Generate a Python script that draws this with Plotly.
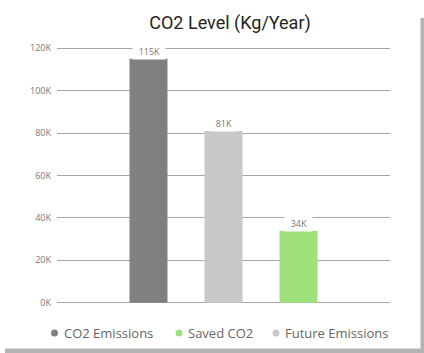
import plotly.graph_objects as go

# Series drawn as columns (left to right) and their values in kg/year
series = ["CO2 Emissions", "Future Emissions", "Saved CO2"]
values = [115000, 81000, 34000]
colors = ["#808080", "#c8c8c8", "#9fe27c"]

# Legend order as shown under the chart
legend_order = ["CO2 Emissions", "Saved CO2", "Future Emissions"]

y_ticks = [0, 20000, 40000, 60000, 80000, 100000, 120000]
y_tick_text = ["0K", "20K", "40K", "60K", "80K", "100K", "120K"]

# headroom so the 0K and 120K gridlines are not clipped at the plot edges
Y_PAD = 2000
Y_MIN, Y_MAX = -Y_PAD, 120000 + Y_PAD

W, H = 424, 353
PX_PER_UNIT = 255 / 120000
ML, MR = 57, 34
MT = round(48 - Y_PAD * PX_PER_UNIT)
MB = round(353 - 303 - Y_PAD * PX_PER_UNIT)
PW, PH = W - ML - MR, H - MT - MB


def px_x(px):
    return (px - ML) / PW


def px_y(py):
    return (H - MB - py) / PH


def fmt_k(v):
    return f"{round(v / 1000)}K"


fig = go.Figure()
for name, val, col in zip(series, values, colors):
    fig.add_trace(go.Bar(
        x=[name], y=[val], base=0, name=name, width=0.507,
        marker=dict(color=col, line=dict(width=0)),
        showlegend=False, hoverinfo="x+y",
    ))

# value labels above each column, with a white box over the gridline
annotations = []
for name, val in zip(series, values):
    annotations.append(dict(
        x=name, y=val, xref="x", yref="y",
        text="&nbsp;&nbsp;" + fmt_k(val) + "&nbsp;&nbsp;",
        showarrow=False, yanchor="middle", yshift=7,
        bgcolor="white", borderpad=1,
        font=dict(family="Open Sans", size=9, color="#777777"),
    ))

# custom legend with round markers
color_of = dict(zip(series, colors))
legend_pos = {"CO2 Emissions": 54.5, "Saved CO2": 179, "Future Emissions": 276}
shapes = []
ly = 333
for name in legend_order:
    cx = legend_pos[name]
    r = 3.5
    shapes.append(dict(
        type="circle", xref="paper", yref="paper",
        x0=px_x(cx - r), x1=px_x(cx + r), y0=px_y(ly + r), y1=px_y(ly - r),
        fillcolor=color_of[name], line=dict(width=0),
    ))
    annotations.append(dict(
        x=px_x(cx + 7), y=px_y(ly), xref="paper", yref="paper",
        text=name, showarrow=False, xanchor="left", yanchor="middle",
        font=dict(family="Open Sans", size=13, color="#666666"),
    ))

# card drop shadow along right and bottom edges
shapes.append(dict(
    type="rect", xref="paper", yref="paper", layer="above",
    x0=px_x(420.5), x1=px_x(425), y0=px_y(18), y1=px_y(353),
    fillcolor="#b4b4b4", line=dict(width=0),
))
shapes.append(dict(
    type="rect", xref="paper", yref="paper", layer="above",
    x0=px_x(5), x1=px_x(425), y0=px_y(348.5), y1=px_y(353),
    fillcolor="#b4b4b4", line=dict(width=0),
))

fig.update_layout(
    width=W, height=H,
    margin=dict(l=ML, r=MR, t=MT, b=MB, pad=0),
    paper_bgcolor="white", plot_bgcolor="white",
    barmode="overlay",
    title=dict(
        text="CO2 Level (Kg/Year)", x=230 / W, xanchor="center",
        y=1 - 23 / H, yanchor="middle", xref="container", yref="container",
        font=dict(family="Roboto", size=18, color="#252423"),
    ),
    xaxis=dict(
        type="category", categoryorder="array", categoryarray=series,
        range=[-1.22, 3.22], showticklabels=False, showgrid=False,
        zeroline=False, showline=False, ticks="", fixedrange=True,
    ),
    yaxis=dict(
        range=[Y_MIN, Y_MAX], tickvals=y_ticks, ticktext=y_tick_text,
        showgrid=True, gridcolor="#a6a6a6", gridwidth=1,
        zeroline=True, zerolinecolor="#a6a6a6", zerolinewidth=1,
        showline=False, ticks="", ticklabelstandoff=5,
        tickfont=dict(family="Open Sans", size=9, color="#777777"),
        fixedrange=True,
    ),
    shapes=shapes, annotations=annotations,
    showlegend=False,
)

fig.write_html("out.html")
